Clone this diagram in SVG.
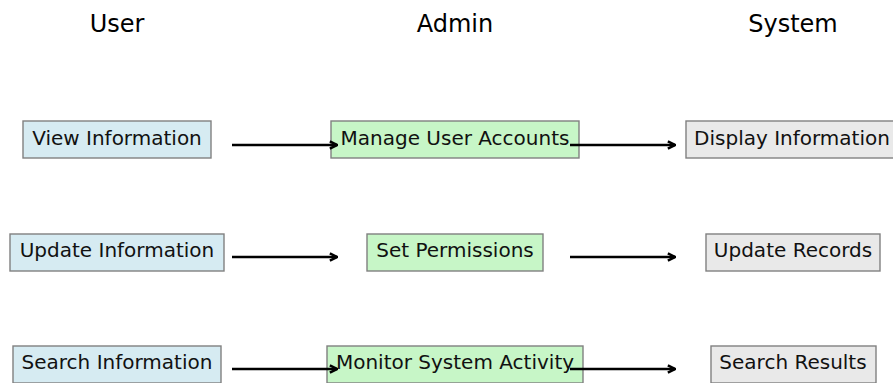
<svg xmlns="http://www.w3.org/2000/svg" width="893" height="383" viewBox="0 0 893 383">
  <style>
    .title { font-family: "DejaVu Sans", sans-serif; font-size: 24px; fill: #000; text-anchor: middle; }
    .label { font-family: "DejaVu Sans", sans-serif; font-size: 20px; fill: #111; text-anchor: middle; }
    .box { stroke: #808080; stroke-width: 1.4; }
    .user .box { fill: #d6ebf2; }
    .admin .box { fill: #c7f6c7; }
    .system .box { fill: #e9e9e9; }
    .conn line { stroke: #000; stroke-width: 2.3; fill: none; marker-end: url(#head); }
  </style>
  <defs>
    <marker id="head" viewBox="0 0 10 10" refX="8.6" refY="5" markerWidth="4.2" markerHeight="4.2" markerUnits="strokeWidth" orient="auto">
      <path d="M1.2,1.2 L8.6,5 L1.2,8.8" fill="none" stroke="#000" stroke-width="2.6" stroke-linejoin="miter"/>
    </marker>
  </defs>

  <rect width="893" height="383" fill="#fff"/>

  <!-- lane headings -->
  <text class="title" x="117" y="32">User</text>
  <text class="title" x="455" y="32">Admin</text>
  <text class="title" x="793" y="32">System</text>

  <!-- User lane -->
  <g id="view-information" class="user">
    <rect class="box" x="23" y="121" width="188" height="37"/>
    <text class="label" x="117" y="145">View Information</text>
  </g>
  <g id="update-information" class="user">
    <rect class="box" x="10" y="234" width="214" height="37"/>
    <text class="label" x="117" y="257">Update Information</text>
  </g>
  <g id="search-information" class="user">
    <rect class="box" x="13" y="346" width="208" height="37"/>
    <text class="label" x="117" y="369">Search Information</text>
  </g>

  <!-- Admin lane -->
  <g id="manage-user-accounts" class="admin">
    <rect class="box" x="331" y="121" width="248" height="37"/>
    <text class="label" x="455" y="145">Manage User Accounts</text>
  </g>
  <g id="set-permissions" class="admin">
    <rect class="box" x="367" y="234" width="176" height="37"/>
    <text class="label" x="455" y="257">Set Permissions</text>
  </g>
  <g id="monitor-system-activity" class="admin">
    <rect class="box" x="327" y="346" width="256" height="37"/>
    <text class="label" x="455" y="369">Monitor System Activity</text>
  </g>

  <!-- System lane -->
  <g id="display-information" class="system">
    <rect class="box" x="686" y="121" width="212" height="37"/>
    <text class="label" x="792" y="145">Display Information</text>
  </g>
  <g id="update-records" class="system">
    <rect class="box" x="706" y="234" width="174" height="37"/>
    <text class="label" x="793" y="257">Update Records</text>
  </g>
  <g id="search-results" class="system">
    <rect class="box" x="711" y="346" width="165" height="37"/>
    <text class="label" x="793" y="369">Search Results</text>
  </g>

  <!-- connectors -->
  <g id="connectors" class="conn">
    <line x1="232" y1="145" x2="337" y2="145"/>
    <line x1="570" y1="145" x2="675" y2="145"/>
    <line x1="232" y1="257" x2="337" y2="257"/>
    <line x1="570" y1="257" x2="675" y2="257"/>
    <line x1="232" y1="369" x2="337" y2="369"/>
    <line x1="570" y1="369" x2="675" y2="369"/>
  </g>
</svg>
